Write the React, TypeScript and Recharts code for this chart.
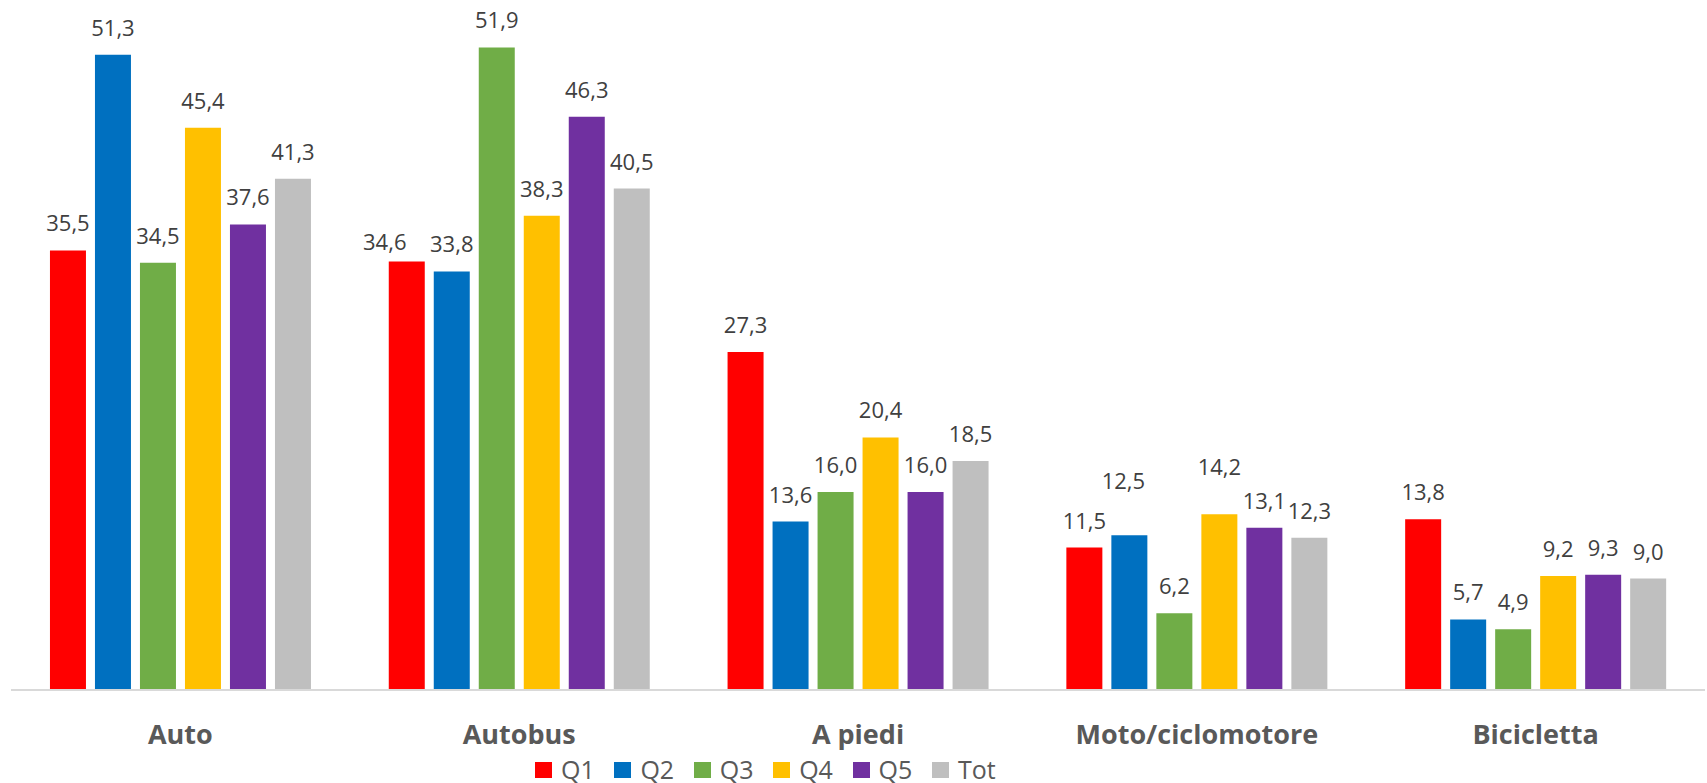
import React from 'react';
import { BarChart, Bar, XAxis, YAxis, Legend, LabelList } from 'recharts';

const categories = ['Auto', 'Autobus', 'A piedi', 'Moto/ciclomotore', 'Bicicletta'];
const q1 = [35.5, 34.6, 27.3, 11.5, 13.8];
const q2 = [51.3, 33.8, 13.6, 12.5, 5.7];
const q3 = [34.5, 51.9, 16.0, 6.2, 4.9];
const q4 = [45.4, 38.3, 20.4, 14.2, 9.2];
const q5 = [37.6, 46.3, 16.0, 13.1, 9.3];
const tot = [41.3, 40.5, 18.5, 12.3, 9.0];

const seriesKeys = ['q1', 'q2', 'q3', 'q4', 'q5', 'tot'];
const seriesNames = ['Q1', 'Q2', 'Q3', 'Q4', 'Q5', 'Tot'];
const seriesColors = ['#ff0000', '#0070c0', '#70ad47', '#ffc000', '#7030a0', '#bfbfbf'];

// labels that were dragged by hand in the original
const labelNudges: Record<string, [number, number]> = {
  'q1|1': [-22, 7],
  'q2|3': [-6, -27],
  'q4|3': [0, -20],
};

const FONT = '"Open Sans", sans-serif';

const data = categories.map((name, i) => ({
  name,
  q1: q1[i],
  q2: q2[i],
  q3: q3[i],
  q4: q4[i],
  q5: q5[i],
  tot: tot[i],
}));

function makeLabel(key: string) {
  return function ValueLabel(props: any) {
    const { x, y, width, value, index } = props;
    const [dx, dy] = labelNudges[`${key}|${index}`] || [0, 0];
    return (
      <text
        x={x + width / 2 + dx}
        y={y - 19 + dy}
        textAnchor="middle"
        fill="#404040"
        fontSize={22}
        fontFamily={FONT}
      >
        {Number(value).toFixed(1).replace('.', ',')}
      </text>
    );
  };
}

function CategoryTick({ x, y, payload }: any) {
  return (
    <text
      x={x}
      y={y + 52}
      textAnchor="middle"
      fill="#595959"
      fontSize={27}
      fontWeight={700}
      fontFamily={FONT}
    >
      {payload.value}
    </text>
  );
}

function LegendContent() {
  return (
    <div
      style={{
        display: 'flex',
        alignItems: 'center',
        height: 35,
        paddingTop: 8,
        boxSizing: 'border-box',
        fontFamily: FONT,
      }}
    >
      {seriesNames.map((n, i) => (
        <div key={n} style={{ display: 'flex', alignItems: 'center', width: 79.4, flex: 'none' }}>
          <span style={{ width: 17, height: 16, background: seriesColors[i], display: 'inline-block', marginRight: 9 }} />
          <span style={{ fontSize: 25, color: '#595959', lineHeight: '27px' }}>{n}</span>
        </div>
      ))}
    </div>
  );
}

export default function App() {
  return (
    <div style={{ position: 'absolute', left: 0, top: 0, background: '#fff' }}>
      <BarChart
        width={1707}
        height={783}
        data={data}
        margin={{ top: 9, right: 2, left: 11, bottom: 0 }}
        barCategoryGap="11.5%"
        barGap={9}
      >
        <XAxis
          dataKey="name"
          axisLine={{ stroke: '#d9d9d9', strokeWidth: 2 }}
          tickLine={false}
          tickSize={0}
          tick={<CategoryTick />}
          height={58}
          interval={0}
        />
        <YAxis hide domain={[0, 55]} />
        <Legend
          verticalAlign="bottom"
          content={<LegendContent />}
          wrapperStyle={{ left: 535, width: 480, height: 35 }}
        />
        {seriesKeys.map((k, i) => (
          <Bar key={k} dataKey={k} name={seriesNames[i]} fill={seriesColors[i]} isAnimationActive={false}>
            <LabelList dataKey={k} content={makeLabel(k)} />
          </Bar>
        ))}
      </BarChart>
    </div>
  );
}
